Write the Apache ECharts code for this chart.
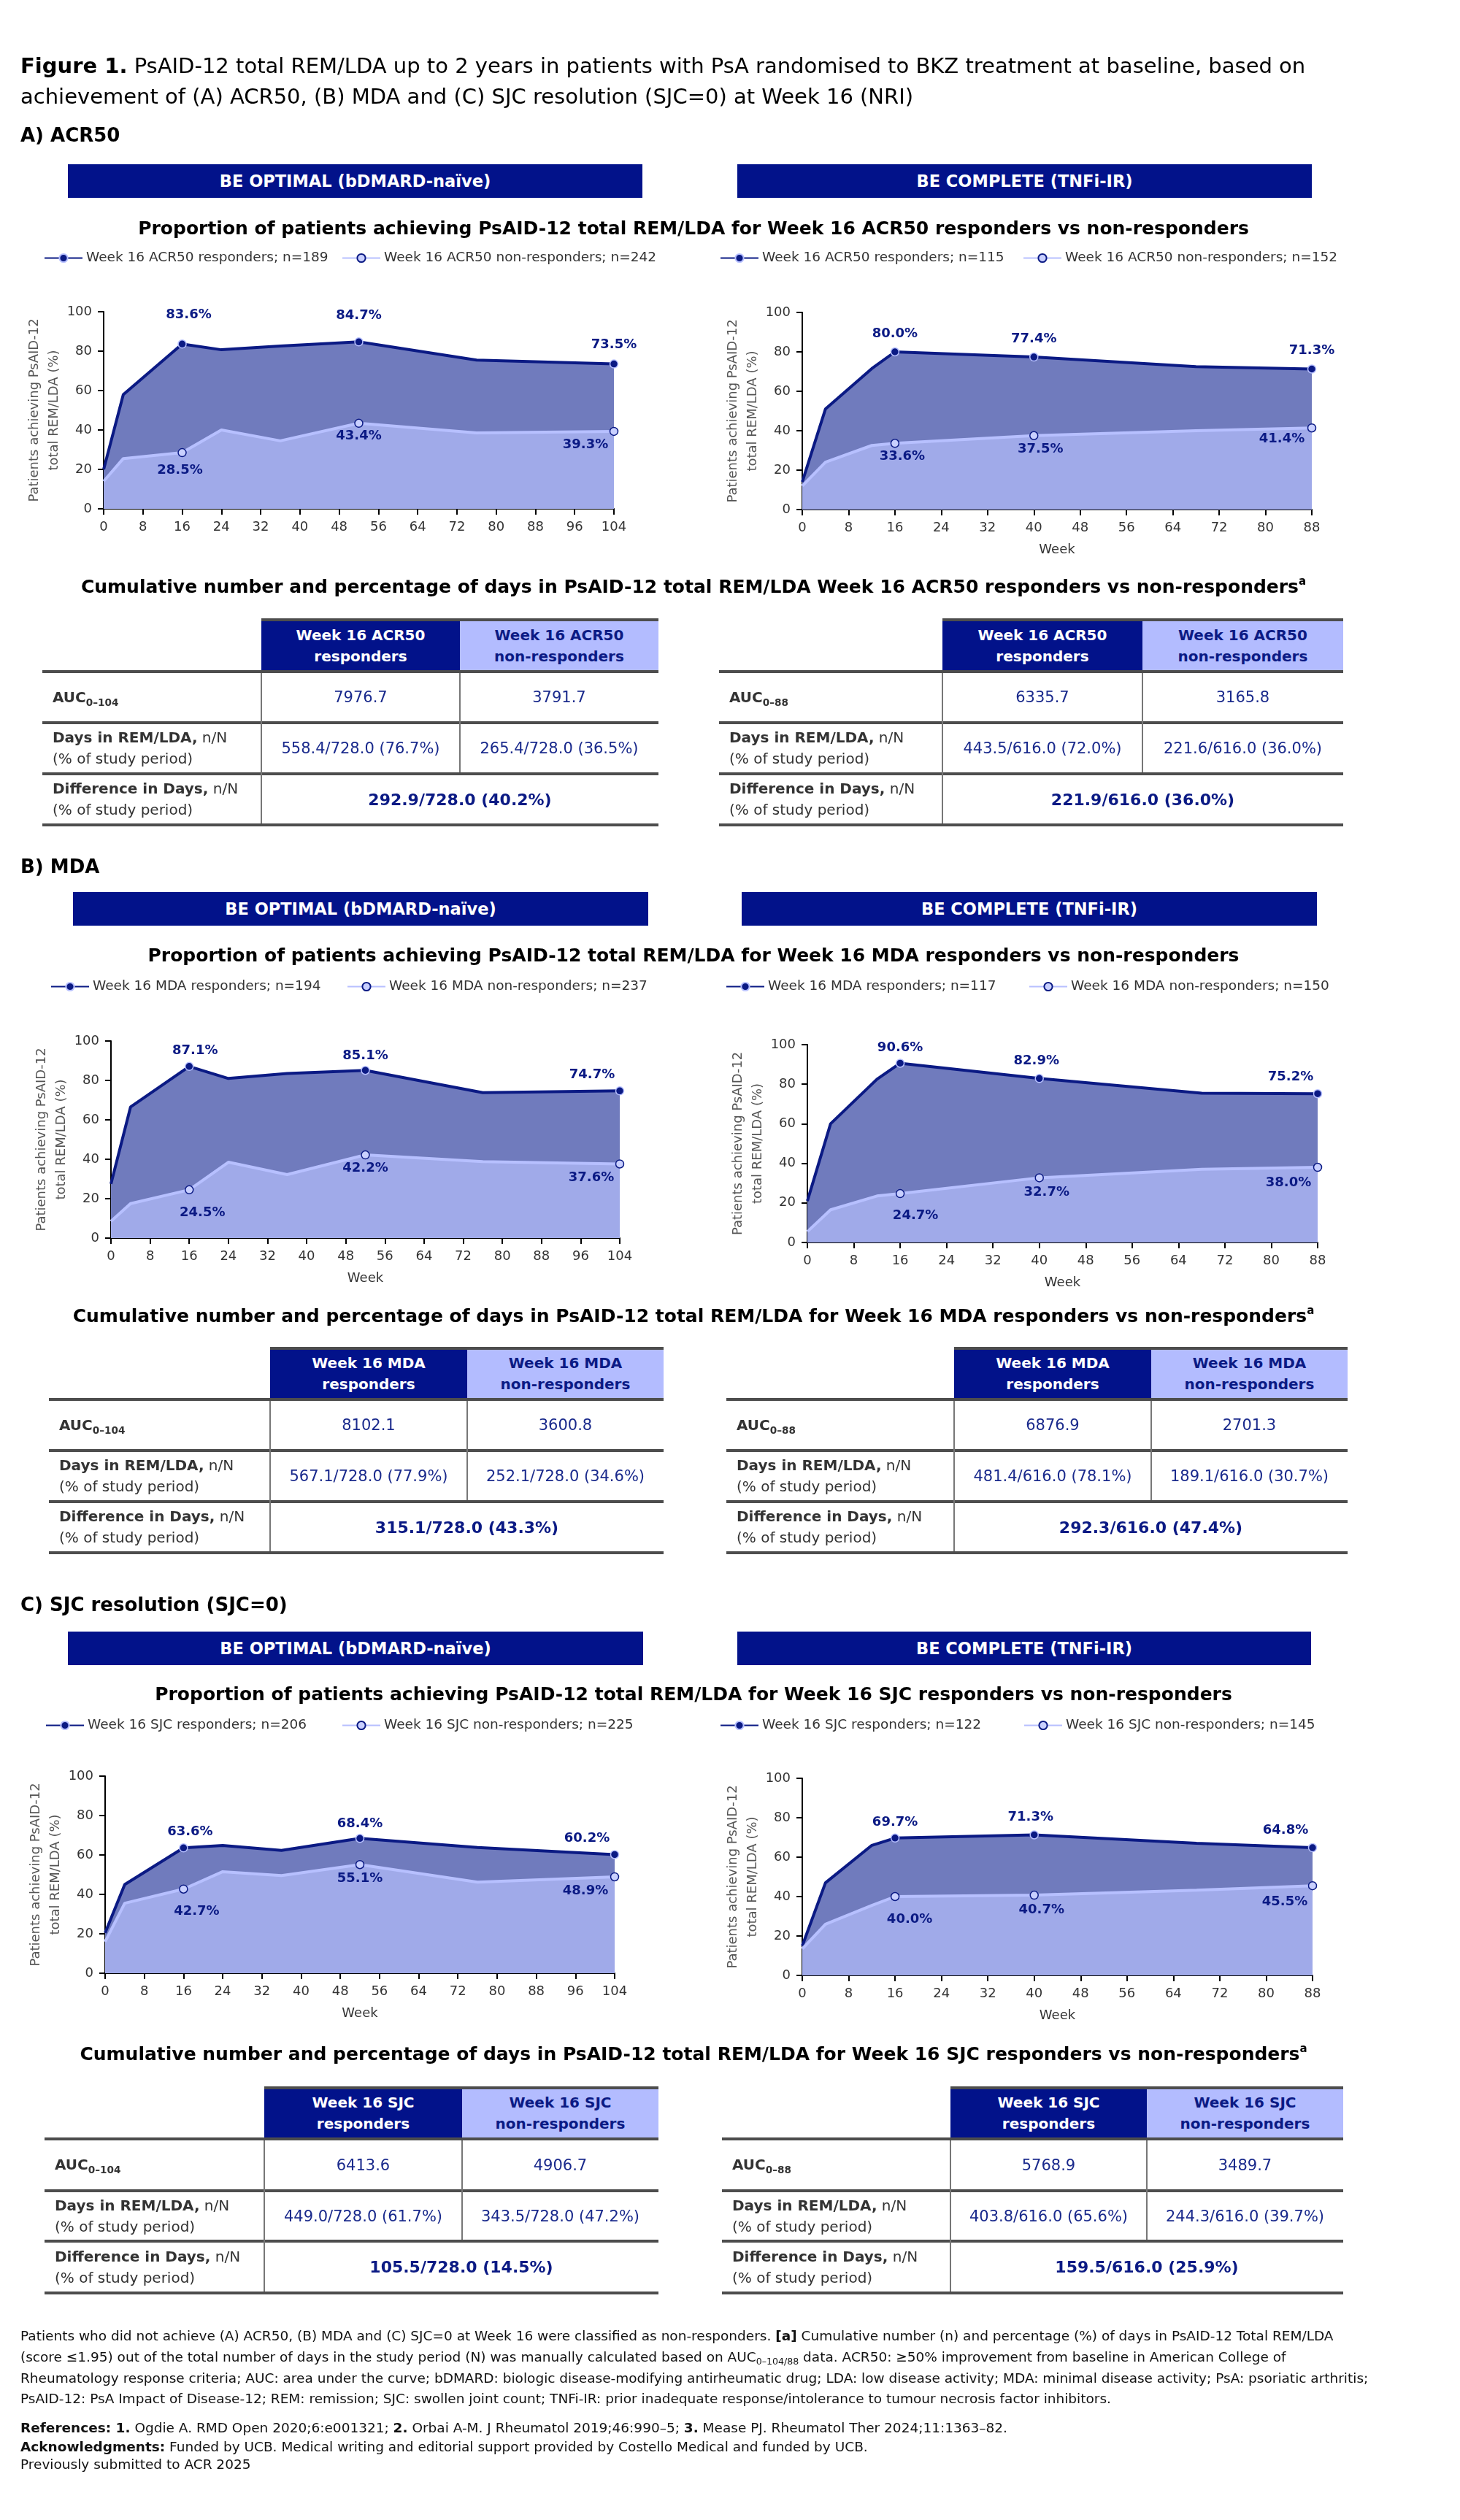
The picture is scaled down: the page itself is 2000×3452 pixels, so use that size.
<!DOCTYPE html>
<html>
<head>
<meta charset="utf-8">
<script src="https://cdn.jsdelivr.net/npm/echarts@6/dist/echarts.min.js"></script>
<style>
html,body{margin:0;padding:0;background:#fff;}
body{width:2000px;height:3452px;position:relative;overflow:hidden;font-family:"DejaVu Sans",Verdana,sans-serif;color:#000;}
#chart{position:absolute;left:0;top:0;width:2000px;height:3452px;}
#overlay{position:absolute;left:0;top:0;width:2000px;height:3452px;pointer-events:none;}
.t{position:absolute;white-space:nowrap;}
.cell{position:absolute;display:flex;align-items:center;justify-content:center;text-align:center;box-sizing:border-box;white-space:nowrap;}
.lab{position:absolute;display:flex;align-items:center;justify-content:flex-start;box-sizing:border-box;padding-left:14px;color:#333;font-size:20px;line-height:29px;white-space:nowrap;}
sub{font-size:0.68em;vertical-align:-0.35em;line-height:0;}
sup{font-size:0.6em;vertical-align:0.7em;line-height:0;}
</style>
</head>
<body>
<div id="chart"></div>
<div id="overlay"></div>
<script>
// ---------------- DATA ----------------
const weeksOptimal  = [0, 4, 16, 24, 36, 52, 76, 104];
const weeksComplete = [0, 4, 12, 16, 40, 68, 88];
const labelledOptimal  = [2, 5, 7];
const labelledComplete = [3, 4, 6];

const acr50OptimalResp  = [20, 58, 83.6, 80.7, 82.6, 84.7, 75.5, 73.5];
const acr50OptimalNon   = [14, 25.5, 28.5, 40.0, 34.5, 43.4, 38.5, 39.3];
const acr50CompleteResp = [14, 51, 71.5, 80.0, 77.4, 72.5, 71.3];
const acr50CompleteNon  = [12, 24, 32.5, 33.6, 37.5, 40.0, 41.4];

const mdaOptimalResp  = [27.5, 66.5, 87.1, 81.0, 83.5, 85.1, 73.8, 74.7];
const mdaOptimalNon   = [8.5, 17.5, 24.5, 38.5, 32.2, 42.2, 38.8, 37.6];
const mdaCompleteResp = [21, 60, 82.5, 90.6, 82.9, 75.5, 75.2];
const mdaCompleteNon  = [5.5, 16.5, 23.5, 24.7, 32.7, 37.0, 38.0];

const sjcOptimalResp  = [20.5, 45, 63.6, 64.8, 62.3, 68.4, 63.8, 60.2];
const sjcOptimalNon   = [16, 35.5, 42.7, 51.5, 49.5, 55.1, 46.2, 48.9];
const sjcCompleteResp = [15, 47, 66, 69.7, 71.3, 67.0, 64.8];
const sjcCompleteNon  = [13.5, 26, 35.5, 40.0, 40.7, 43.2, 45.5];

const acr50OptimalNames  = ['Week 16 ACR50 responders; n=189', 'Week 16 ACR50 non-responders; n=242'];
const acr50CompleteNames = ['Week 16 ACR50 responders; n=115', 'Week 16 ACR50 non-responders; n=152'];
const mdaOptimalNames    = ['Week 16 MDA responders; n=194', 'Week 16 MDA non-responders; n=237'];
const mdaCompleteNames   = ['Week 16 MDA responders; n=117', 'Week 16 MDA non-responders; n=150'];
const sjcOptimalNames    = ['Week 16 SJC responders; n=206', 'Week 16 SJC non-responders; n=225'];
const sjcCompleteNames   = ['Week 16 SJC responders; n=122', 'Week 16 SJC non-responders; n=145'];

const xMaxOptimal = 104, xMaxComplete = 88, xInterval = 8;
const yMin = 0, yMax = 100, yInterval = 20;
const yAxisTitle = 'Patients achieving PsAID-12\ntotal REM/LDA (%)';

// table values
const acr50OptimalTable  = {auc: ['7976.7', '3791.7'], days: ['558.4/728.0 (76.7%)', '265.4/728.0 (36.5%)'], diff: '292.9/728.0 (40.2%)'};
const acr50CompleteTable = {auc: ['6335.7', '3165.8'], days: ['443.5/616.0 (72.0%)', '221.6/616.0 (36.0%)'], diff: '221.9/616.0 (36.0%)'};
const mdaOptimalTable    = {auc: ['8102.1', '3600.8'], days: ['567.1/728.0 (77.9%)', '252.1/728.0 (34.6%)'], diff: '315.1/728.0 (43.3%)'};
const mdaCompleteTable   = {auc: ['6876.9', '2701.3'], days: ['481.4/616.0 (78.1%)', '189.1/616.0 (30.7%)'], diff: '292.3/616.0 (47.4%)'};
const sjcOptimalTable    = {auc: ['6413.6', '4906.7'], days: ['449.0/728.0 (61.7%)', '343.5/728.0 (47.2%)'], diff: '105.5/728.0 (14.5%)'};
const sjcCompleteTable   = {auc: ['5768.9', '3489.7'], days: ['403.8/616.0 (65.6%)', '244.3/616.0 (39.7%)'], diff: '159.5/616.0 (25.9%)'};

// ---------------- STYLE ----------------
const FONT = '"DejaVu Sans", Verdana, sans-serif';
const NAVY = '#02128A';
const LINE_RESP = '#0B1A84';
const AREA_RESP = '#707BBD';
const LINE_NON = '#B7C0FF';
const AREA_NON = '#A0AAE9';
const HEAD_NON = '#B3BCFF';
const VAL = '#1A2A8C';

// ---------------- PANELS (layout) ----------------
const panels = [
  {names: acr50OptimalNames, weeks: weeksOptimal, resp: acr50OptimalResp, non: acr50OptimalNon, idx: labelledOptimal, max: xMaxOptimal,
   grid: {left: 142, top: 427, width: 699, height: 270}, leg: [60, 468], legY: 355, week: false,
   offR: [[9, -40], [0, -36], [0, -26]], offN: [[-3, 24], [0, 18], [-39, 18]]},
  {names: acr50CompleteNames, weeks: weeksComplete, resp: acr50CompleteResp, non: acr50CompleteNon, idx: labelledComplete, max: xMaxComplete,
   grid: {left: 1099, top: 428, width: 698, height: 270}, leg: [986, 1401], legY: 355, week: true,
   offR: [[0, -25], [0, -25], [0, -25]], offN: [[10, 18], [9, 19], [-41, 15]]},
  {names: mdaOptimalNames, weeks: weeksOptimal, resp: mdaOptimalResp, non: mdaOptimalNon, idx: labelledOptimal, max: xMaxOptimal,
   grid: {left: 152, top: 1426, width: 697, height: 270}, leg: [69, 475], legY: 1353, week: true,
   offR: [[8, -22], [0, -20], [-38, -22]], offN: [[18, 31], [0, 18], [-39, 19]]},
  {names: mdaCompleteNames, weeks: weeksComplete, resp: mdaCompleteResp, non: mdaCompleteNon, idx: labelledComplete, max: xMaxComplete,
   grid: {left: 1106, top: 1431, width: 699, height: 271}, leg: [994, 1409], legY: 1353, week: true,
   offR: [[0, -21], [-4, -24], [-37, -23]], offN: [[21, 30], [10, 20], [-40, 21]]},
  {names: sjcOptimalNames, weeks: weeksOptimal, resp: sjcOptimalResp, non: sjcOptimalNon, idx: labelledOptimal, max: xMaxOptimal,
   grid: {left: 144, top: 2433, width: 698, height: 270}, leg: [62, 468], legY: 2365, week: true,
   offR: [[9, -22], [0, -20], [-38, -22]], offN: [[18, 31], [0, 19], [-40, 19]]},
  {names: sjcCompleteNames, weeks: weeksComplete, resp: sjcCompleteResp, non: sjcCompleteNon, idx: labelledComplete, max: xMaxComplete,
   grid: {left: 1099, top: 2436, width: 699, height: 270}, leg: [986, 1402], legY: 2365, week: true,
   offR: [[0, -21], [-5, -24], [-37, -24]], offN: [[20, 31], [10, 20], [-38, 22]]}
];

// ---------------- ECHARTS ----------------
const chart = echarts.init(document.getElementById('chart'), null, {renderer: 'canvas'});
const grids = [], xAxes = [], yAxes = [], series = [], legends = [];

function mkData(weeks, vals, idx, offs) {
  return weeks.map((w, i) => {
    const k = idx.indexOf(i);
    if (k >= 0) {
      return {value: [w, vals[i]], symbol: 'circle', label: {show: true, offset: offs[k]}};
    }
    return {value: [w, vals[i]], symbol: 'none', label: {show: false}};
  });
}

panels.forEach((p, k) => {
  grids.push(Object.assign({containLabel: false}, p.grid));
  xAxes.push({
    type: 'value', gridIndex: k, min: 0, max: p.max, interval: xInterval,
    axisLine: {show: true, onZero: false, lineStyle: {color: '#000', width: 2}},
    axisTick: {show: true, length: 8, lineStyle: {color: '#000', width: 2}},
    axisLabel: {color: '#333', fontSize: 18, margin: 16, fontFamily: FONT},
    splitLine: {show: false},
    name: p.week ? 'Week' : '', nameLocation: 'middle', nameGap: 46,
    nameTextStyle: {color: '#333', fontSize: 18, fontFamily: FONT}
  });
  yAxes.push({
    type: 'value', gridIndex: k, min: yMin, max: yMax, interval: yInterval,
    axisLine: {show: true, lineStyle: {color: '#000', width: 2}},
    axisTick: {show: true, length: 8, lineStyle: {color: '#000', width: 2}},
    axisLabel: {color: '#333', fontSize: 18, margin: 16, fontFamily: FONT},
    splitLine: {show: false},
    name: yAxisTitle, nameLocation: 'middle', nameGap: 52, nameRotate: 90,
    nameTextStyle: {color: '#555', fontSize: 18, lineHeight: 27, fontFamily: FONT, align: 'center'}
  });
  series.push({
    type: 'line', name: p.names[0], xAxisIndex: k, yAxisIndex: k,
    data: mkData(p.weeks, p.resp, p.idx, p.offR),
    symbol: 'circle', symbolSize: 11, showAllSymbol: true, clip: false,
    lineStyle: {color: LINE_RESP, width: 4},
    itemStyle: {color: LINE_RESP, borderColor: LINE_NON, borderWidth: 1.5},
    areaStyle: {color: AREA_RESP, opacity: 1},
    label: {position: 'inside', formatter: q => q.value[1].toFixed(1) + '%', color: LINE_RESP,
            fontWeight: 'bold', fontSize: 18, fontFamily: FONT},
    z: 2, silent: true
  });
  series.push({
    type: 'line', name: p.names[1], xAxisIndex: k, yAxisIndex: k,
    data: mkData(p.weeks, p.non, p.idx, p.offN),
    symbol: 'circle', symbolSize: 11, showAllSymbol: true, clip: false,
    lineStyle: {color: LINE_NON, width: 4},
    itemStyle: {color: '#C9D0FF', borderColor: LINE_RESP, borderWidth: 1.5},
    areaStyle: {color: AREA_NON, opacity: 1},
    label: {position: 'inside', formatter: q => q.value[1].toFixed(1) + '%', color: LINE_RESP,
            fontWeight: 'bold', fontSize: 18, fontFamily: FONT},
    z: 3, silent: true
  });
  [0, 1].forEach(j => {
    legends.push({
      data: [p.names[j]], left: p.leg[j], top: p.legY - 11, padding: 0,
      itemWidth: 52, itemHeight: 14, selectedMode: false,
      textStyle: {fontSize: 18.5, color: '#333', fontFamily: FONT}
    });
  });
});

chart.setOption({
  animation: false,
  backgroundColor: 'transparent',
  textStyle: {fontFamily: FONT},
  grid: grids, xAxis: xAxes, yAxis: yAxes, series: series, legend: legends
});

// ---------------- HTML overlay ----------------
const ov = document.getElementById('overlay');
function add(style, html, cls) {
  const d = document.createElement('div');
  d.className = cls || 't';
  d.setAttribute('style', style);
  d.innerHTML = html;
  ov.appendChild(d);
  return d;
}
function textL(x, cy, html, css) { add(`left:${x}px;top:${cy}px;transform:translateY(-50%);${css || ''}`, html); }
function textC(cx, cy, html, css) { add(`left:${cx}px;top:${cy}px;transform:translate(-50%,-50%);${css || ''}`, html); }
function rect(x, y, w, h, color) { add(`left:${x}px;top:${y}px;width:${w}px;height:${h}px;background:${color};`, '', 't'); }
function banner(x0, x1, y0, y1, label) {
  add(`left:${x0}px;top:${y0}px;width:${x1 - x0}px;height:${y1 - y0}px;background:${NAVY};color:#fff;font-weight:bold;font-size:22.5px;`, label, 'cell');
}

// Figure title
add('left:28px;top:69px;font-size:29px;line-height:42px;', '<b>Figure 1.</b> PsAID-12 total REM/LDA up to 2 years in patients with PsA randomised to BKZ treatment at baseline, based on<br>achievement of (A) ACR50, (B) MDA and (C) SJC resolution (SJC=0) at Week 16 (NRI)');

const sections = [
  {head: 'A) ACR50', headY: 185, banner: [225, 271], bx: [[93, 880], [1010, 1797]], title: 312, ttl: 'ACR50', tblTitleY: 803,
   tblTitle: 'Cumulative number and percentage of days in PsAID-12 total REM/LDA Week 16 ACR50 responders vs non-responders',
   rows: [849, 920, 990, 1060, 1130], cols: [[58, 358, 630, 902], [985, 1291, 1565, 1840]], hdr: 'ACR50',
   tables: [acr50OptimalTable, acr50CompleteTable]},
  {head: 'B) MDA', headY: 1187, banner: [1222, 1268], bx: [[100, 888], [1016, 1804]], title: 1308, ttl: 'MDA', tblTitleY: 1802,
   tblTitle: 'Cumulative number and percentage of days in PsAID-12 total REM/LDA for Week 16 MDA responders vs non-responders',
   rows: [1847, 1917, 1987, 2057, 2127], cols: [[67, 370, 640, 909], [995, 1307, 1577, 1846]], hdr: 'MDA',
   tables: [mdaOptimalTable, mdaCompleteTable]},
  {head: 'C) SJC resolution (SJC=0)', headY: 2198, banner: [2235, 2281], bx: [[93, 881], [1010, 1796]], title: 2320, ttl: 'SJC', tblTitleY: 2813,
   tblTitle: 'Cumulative number and percentage of days in PsAID-12 total REM/LDA for Week 16 SJC responders vs non-responders',
   rows: [2860, 2930, 3001, 3070, 3141], cols: [[61, 362, 633, 902], [989, 1302, 1571, 1840]], hdr: 'SJC',
   tables: [sjcOptimalTable, sjcCompleteTable]}
];
const studyNames = ['BE OPTIMAL (bDMARD-naïve)', 'BE COMPLETE (TNFi-IR)'];
const aucSubs = ['0–104', '0–88'];

function hline(x0, x1, y) { rect(x0, y - 2, x1 - x0, 4, '#4d4d4d'); }
function vline(x, y0, y1) { rect(x - 0.75, y0, 1.5, y1 - y0, '#777'); }

function buildTable(c, r, hdr, t, sub) {
  add(`left:${c[1]}px;top:${r[0]}px;width:${c[2] - c[1]}px;height:${r[1] - r[0]}px;background:${NAVY};color:#fff;font-weight:bold;font-size:20px;line-height:29px;`,
      `Week 16 ${hdr}<br>responders`, 'cell');
  add(`left:${c[2]}px;top:${r[0]}px;width:${c[3] - c[2]}px;height:${r[1] - r[0]}px;background:${HEAD_NON};color:${LINE_RESP};font-weight:bold;font-size:20px;line-height:29px;`,
      `Week 16 ${hdr}<br>non-responders`, 'cell');
  hline(c[1], c[3], r[0]);
  for (let i = 1; i <= 4; i++) hline(c[0], c[3], r[i]);
  vline(c[1], r[1] + 2, r[4] - 2);
  vline(c[2], r[1] + 2, r[3] - 2);
  // labels
  add(`left:${c[0]}px;top:${r[1]}px;width:${c[1] - c[0]}px;height:${r[2] - r[1]}px;`, `<b>AUC<sub>${sub}</sub></b>`, 'lab');
  add(`left:${c[0]}px;top:${r[2]}px;width:${c[1] - c[0]}px;height:${r[3] - r[2]}px;`, `<div><b>Days in REM/LDA,</b> n/N<br>(% of study period)</div>`, 'lab');
  add(`left:${c[0]}px;top:${r[3]}px;width:${c[1] - c[0]}px;height:${r[4] - r[3]}px;`, `<div><b>Difference in Days,</b> n/N<br>(% of study period)</div>`, 'lab');
  // values
  const vs = `color:${VAL};font-size:21px;`;
  add(`left:${c[1]}px;top:${r[1]}px;width:${c[2] - c[1]}px;height:${r[2] - r[1]}px;${vs}`, t.auc[0], 'cell');
  add(`left:${c[2]}px;top:${r[1]}px;width:${c[3] - c[2]}px;height:${r[2] - r[1]}px;${vs}`, t.auc[1], 'cell');
  add(`left:${c[1]}px;top:${r[2]}px;width:${c[2] - c[1]}px;height:${r[3] - r[2]}px;${vs}`, t.days[0], 'cell');
  add(`left:${c[2]}px;top:${r[2]}px;width:${c[3] - c[2]}px;height:${r[3] - r[2]}px;${vs}`, t.days[1], 'cell');
  add(`left:${c[1]}px;top:${r[3]}px;width:${c[3] - c[1]}px;height:${r[4] - r[3]}px;color:${LINE_RESP};font-size:22px;font-weight:bold;`, t.diff, 'cell');
}

sections.forEach(s => {
  textL(28, s.headY, s.head, 'font-size:26px;font-weight:bold;');
  banner(s.bx[0][0], s.bx[0][1], s.banner[0], s.banner[1], studyNames[0]);
  banner(s.bx[1][0], s.bx[1][1], s.banner[0], s.banner[1], studyNames[1]);
  textC(950, s.title, `Proportion of patients achieving PsAID-12 total REM/LDA for Week 16 ${s.ttl} responders vs non-responders`, 'font-size:25px;font-weight:bold;');
  textC(950, s.tblTitleY, s.tblTitle + '<sup>a</sup>', 'font-size:25px;font-weight:bold;');
  buildTable(s.cols[0], s.rows, s.hdr, s.tables[0], aucSubs[0]);
  buildTable(s.cols[1], s.rows, s.hdr, s.tables[1], aucSubs[1]);
});

// Footnotes
const fn = 'font-size:18.5px;color:#111;';
textL(28, 3199, 'Patients who did not achieve (A) ACR50, (B) MDA and (C) SJC=0 at Week 16 were classified as non-responders. <b>[a]</b> Cumulative number (n) and percentage (%) of days in PsAID-12 Total REM/LDA', fn);
textL(28, 3228, '(score ≤1.95) out of the total number of days in the study period (N) was manually calculated based on AUC<sub>0–104/88</sub> data. ACR50: ≥50% improvement from baseline in American College of', fn);
textL(28, 3257, 'Rheumatology response criteria; AUC: area under the curve; bDMARD: biologic disease-modifying antirheumatic drug; LDA: low disease activity; MDA: minimal disease activity; PsA: psoriatic arthritis;', fn);
textL(28, 3285, 'PsAID-12: PsA Impact of Disease-12; REM: remission; SJC: swollen joint count; TNFi-IR: prior inadequate response/intolerance to tumour necrosis factor inhibitors.', fn);
textL(28, 3325, '<b>References: 1.</b> Ogdie A. RMD Open 2020;6:e001321; <b>2.</b> Orbai A-M. J Rheumatol 2019;46:990–5; <b>3.</b> Mease PJ. Rheumatol Ther 2024;11:1363–82.', fn);
textL(28, 3351, '<b>Acknowledgments:</b> Funded by UCB. Medical writing and editorial support provided by Costello Medical and funded by UCB.', fn);
textL(28, 3375, 'Previously submitted to ACR 2025', fn);
</script>
</body>
</html>
